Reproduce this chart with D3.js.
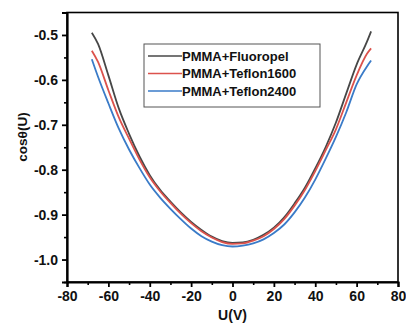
<!DOCTYPE html>
<html>
<head>
<meta charset="utf-8">
<script src="https://cdn.jsdelivr.net/npm/d3@7"></script>
<style>
  body { margin: 0; background: #fff; }
  svg text { font-family: "Liberation Sans", Arial, sans-serif; font-weight: bold; }
</style>
</head>
<body>
<div id="chart"></div>
<script>
// voltage values (V)
const voltage = [-68, -65, -60, -55, -50, -45, -40, -35, -30, -25, -20, -15, -10, -5, 0,
  5, 10, 15, 20, 25, 30, 35, 40, 45, 50, 55, 60, 65, 67];

const fluoropel = [-0.495, -0.520, -0.590, -0.663, -0.720, -0.770, -0.812, -0.845, -0.871, -0.895,
  -0.916, -0.934, -0.949, -0.959, -0.963, -0.962, -0.956, -0.945, -0.929, -0.906,
  -0.875, -0.840, -0.797, -0.750, -0.695, -0.630, -0.566, -0.515, -0.492];
const teflon1600 = [-0.535, -0.560, -0.623, -0.683, -0.731, -0.777, -0.817, -0.848, -0.874, -0.898,
  -0.919, -0.937, -0.951, -0.961, -0.965, -0.964, -0.958, -0.948, -0.932, -0.910,
  -0.880, -0.845, -0.803, -0.757, -0.710, -0.650, -0.590, -0.542, -0.530];
const teflon2400 = [-0.554, -0.593, -0.652, -0.708, -0.755, -0.796, -0.833, -0.862, -0.887, -0.910,
  -0.931, -0.948, -0.960, -0.968, -0.971, -0.969, -0.964, -0.955, -0.941, -0.922,
  -0.895, -0.862, -0.822, -0.776, -0.727, -0.672, -0.610, -0.570, -0.557];

const seriesNames = ['PMMA+Fluoropel', 'PMMA+Teflon1600', 'PMMA+Teflon2400'];
const seriesColors = ['#474747', '#dc524c', '#3a7bc8'];
const seriesValues = [fluoropel, teflon1600, teflon2400];

const xTicks = [-80, -60, -40, -20, 0, 20, 40, 60, 80];
const yTicks = [-1.0, -0.9, -0.8, -0.7, -0.6, -0.5];

const W = 406, H = 331;
const margin = { top: 12.5, right: 8, bottom: 49, left: 67 };

const svg = d3.select('#chart').append('svg')
  .attr('width', W)
  .attr('height', H);

const x = d3.scaleLinear().domain([-80, 80]).range([margin.left, W - margin.right]);
const y = d3.scaleLinear().domain([-1.05, -0.45]).range([H - margin.bottom, margin.top]);

// curves
const line = d3.line()
  .x(d => x(d[0]))
  .y(d => y(d[1]))
  .curve(d3.curveMonotoneX);

seriesValues.forEach((vals, i) => {
  svg.append('path')
    .datum(voltage.map((v, j) => [v, vals[j]]))
    .attr('fill', 'none')
    .attr('stroke', seriesColors[i])
    .attr('stroke-width', 1.8)
    .attr('d', line);
});

// frame
svg.append('rect')
  .attr('x', x(-80))
  .attr('y', y(-0.45))
  .attr('width', x(80) - x(-80))
  .attr('height', y(-1.05) - y(-0.45))
  .attr('fill', 'none')
  .attr('stroke', '#000')
  .attr('stroke-width', 1.6);

// minor ticks
const xMinor = d3.range(-70, 80, 20);
const yMinor = [-1.05, -0.95, -0.85, -0.75, -0.65, -0.55];

svg.append('g')
  .attr('transform', `translate(0,${y(-1.05)})`)
  .call(d3.axisBottom(x).tickValues(xMinor).tickSize(3).tickFormat(''))
  .call(g => g.select('.domain').remove())
  .selectAll('line').attr('stroke-width', 1.6);

svg.append('g')
  .attr('transform', `translate(${x(-80)},0)`)
  .call(d3.axisLeft(y).tickValues(yMinor).tickSize(3).tickFormat(''))
  .call(g => g.select('.domain').remove())
  .selectAll('line').attr('stroke-width', 1.6);

// major axes
const xAxis = svg.append('g')
  .attr('transform', `translate(0,${y(-1.05)})`)
  .call(d3.axisBottom(x).tickValues(xTicks).tickSize(5).tickPadding(4).tickFormat(d3.format('d')));
xAxis.select('.domain').attr('stroke-width', 2.2);
xAxis.selectAll('line').attr('stroke-width', 1.8);
xAxis.selectAll('text')
  .style('font-size', '14px')
  .attr('fill', '#111')
  .text(d => d < 0 ? '-' + Math.abs(d) : d);

const yAxis = svg.append('g')
  .attr('transform', `translate(${x(-80)},0)`)
  .call(d3.axisLeft(y).tickValues(yTicks).tickSize(5).tickPadding(4).tickFormat(d3.format('.1f')));
yAxis.select('.domain').attr('stroke-width', 2.2);
yAxis.selectAll('line').attr('stroke-width', 1.8);
yAxis.selectAll('text')
  .style('font-size', '14px')
  .attr('fill', '#111')
  .text(d => '-' + Math.abs(d).toFixed(1));

// axis titles
svg.append('text')
  .attr('x', x(0))
  .attr('y', 320)
  .attr('text-anchor', 'middle')
  .style('font-size', '14px')
  .attr('fill', '#111')
  .text('U(V)');

svg.append('text')
  .attr('transform', `translate(27,${137}) rotate(-90)`)
  .attr('text-anchor', 'middle')
  .style('font-size', '13.5px')
  .attr('fill', '#111')
  .text('cosθ(U)');

// legend
const legend = svg.append('g').attr('transform', 'translate(144,44)');
legend.append('rect')
  .attr('width', 176)
  .attr('height', 63)
  .attr('fill', '#fff')
  .attr('stroke', '#555')
  .attr('stroke-width', 1);

seriesNames.forEach((name, i) => {
  const ly = 12 + i * 17.5;
  legend.append('line')
    .attr('x1', 4).attr('x2', 38)
    .attr('y1', ly).attr('y2', ly)
    .attr('stroke', seriesColors[i])
    .attr('stroke-width', 1.5);
  legend.append('text')
    .attr('x', 38)
    .attr('y', ly + 4.5)
    .style('font-size', '13px')
    .attr('fill', '#111')
    .text(name);
});
</script>
</body>
</html>
